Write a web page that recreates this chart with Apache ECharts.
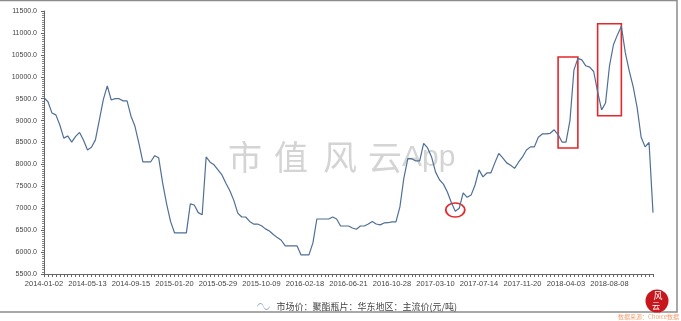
<!DOCTYPE html>
<html>
<head>
<meta charset="utf-8">
<script src="https://cdn.jsdelivr.net/npm/echarts@6/dist/echarts.min.js"></script>
<style>
  html, body { margin: 0; padding: 0; background: #fff; }
  #chart { width: 681px; height: 321px; }
</style>
</head>
<body>
<div id="chart"></div>
<script>
// x 轴刻度日期（每段 11 个采样点）
var tickLabels = ['2014-01-02', '2014-05-13', '2014-09-15', '2015-01-20', '2015-05-29', '2015-10-09', '2016-02-18',
    '2016-06-21', '2016-10-28', '2017-03-10', '2017-07-14', '2017-11-20', '2018-04-03', '2018-08-08'];
var lastDate = '2018-12-14';
var perSegment = 11;

// 市场价：聚酯瓶片：华东地区：主流价(元/吨)
var prices = [
    9520, 9430, 9175, 9130, 8900, 8600, 8650, 8510, 8640, 8730, 8550,
    8330, 8390, 8560, 9015, 9480, 9790, 9470, 9500, 9500, 9450, 9450,
    9100, 8870, 8480, 8060, 8060, 8060, 8200, 8150, 7580, 7100, 6700,
    6440, 6440, 6440, 6440, 7100, 7075, 6900, 6850, 8170, 8050, 7990,
    7875, 7760, 7570, 7400, 7180, 6890, 6800, 6800, 6700, 6640, 6640,
    6600, 6530, 6480, 6400, 6330, 6270, 6140, 6140, 6140, 6140, 5935,
    5935, 5935, 6210, 6755, 6755, 6755, 6755, 6800, 6755, 6595, 6595,
    6595, 6550, 6520, 6595, 6595, 6640, 6700, 6640, 6620, 6665, 6670,
    6690, 6690, 7030, 7690, 8130, 8130, 8080, 8080, 8480, 8375, 8170,
    7830, 7650, 7550, 7370, 7130, 6930, 7000, 7350, 7250, 7300, 7530,
    7875, 7715, 7805, 7805, 8035, 8250, 8150, 8035, 7980, 7910, 8050,
    8170, 8330, 8400, 8400, 8620, 8695, 8695, 8710, 8790, 8680, 8510,
    8510, 9000, 10150, 10420, 10385, 10250, 10220, 10120, 9655, 9245, 9400,
    10250, 10730, 10955, 11150, 10550, 10130, 9770, 9290, 8620, 8400, 8500,
    6900
];

// 标注：两个红框、一个红圈（类目序号 + 数值）
var boxes = [[130, 10450, 135, 8375], [140, 11210, 146, 9110]];
var circleAt = [104, 6960];

var seriesName = '市场价：聚酯瓶片：华东地区：主流价(元/吨)';

function fmt(d) {
    var m = d.getUTCMonth() + 1, day = d.getUTCDate();
    return d.getUTCFullYear() + '-' + (m < 10 ? '0' : '') + m + '-' + (day < 10 ? '0' : '') + day;
}

var categories = [];
var edges = tickLabels.concat([lastDate]);
for (var k = 0; k < tickLabels.length; k++) {
    var a = Date.parse(edges[k]), b = Date.parse(edges[k + 1]);
    for (var j = 0; j < perSegment; j++) {
        categories.push(j === 0 ? edges[k] : fmt(new Date(a + (b - a) * j / perSegment)));
    }
}
categories.push(lastDate);

var wmFont = '34px "Noto Sans CJK SC"';
var wmColor = '#d4d4d4';

var chart = echarts.init(document.getElementById('chart'));
chart.setOption({
    animation: false,
    grid: {left: 44, right: 28, top: 11, bottom: 47},
    legend: {
        data: [seriesName],
        left: 252,
        top: 297,
        itemWidth: 16,
        itemHeight: 7,
        icon: 'path://M0,5 C3,0 6,0 8,5 C10,10 13,10 16,5 L16,6.2 C13,11.2 10,11.2 8,6.2 C6,1.2 3,1.2 0,6.2 Z',
        itemStyle: {color: '#90a9c6'},
        textStyle: {fontSize: 9, color: '#444', fontFamily: 'Noto Sans CJK SC'}
    },
    xAxis: {
        type: 'category',
        boundaryGap: false,
        data: categories,
        axisLine: {lineStyle: {color: '#666', width: 1}},
        axisTick: {interval: 0, length: 3, lineStyle: {color: '#666'}},
        axisLabel: {
            interval: function (i) { return i % perSegment === 0 && i < categories.length - 1; },
            fontSize: 7.5, color: '#444', margin: 6, fontFamily: 'Liberation Sans'
        },
        splitLine: {show: false}
    },
    yAxis: {
        type: 'value',
        min: 5500,
        max: 11500,
        interval: 500,
        axisLine: {show: true, lineStyle: {color: '#666', width: 1}},
        axisTick: {show: true, length: 3, lineStyle: {color: '#666'}},
        minorTick: {show: true, splitNumber: 10, length: 2, lineStyle: {color: '#888'}},
        axisLabel: {
            fontSize: 7, color: '#444', margin: 7, fontFamily: 'Liberation Sans',
            formatter: function (v) { return v.toFixed(1); }
        },
        splitLine: {show: false}
    },
    series: [{
        name: seriesName,
        type: 'line',
        data: prices,
        showSymbol: false,
        z: 5,
        lineStyle: {color: '#4f6f96', width: 1.2},
        itemStyle: {color: '#4f6f96'},
        markArea: {
            silent: true,
            itemStyle: {color: 'rgba(0,0,0,0)', borderColor: '#e8262a', borderWidth: 1.6},
            data: boxes.map(function (b) {
                return [{xAxis: categories[b[0]], yAxis: b[1]}, {xAxis: categories[b[2]], yAxis: b[3]}];
            })
        },
        markPoint: {
            silent: true,
            symbol: 'circle',
            symbolSize: [19, 14],
            label: {show: false},
            itemStyle: {color: 'rgba(0,0,0,0)', borderColor: '#e8262a', borderWidth: 1.6},
            data: [{coord: [categories[circleAt[0]], circleAt[1]]}]
        }
    }],
    graphic: [
        {type: 'rect', z: 0, silent: true, shape: {x: -1, y: 0.5, width: 678, height: 311.5},
            style: {fill: null, stroke: '#8c8c8c', lineWidth: 1.5}},
        {type: 'group', z: 0, silent: true, children: [
            {type: 'text', x: 245, y: 157, style: {text: '市', font: wmFont, fill: wmColor, align: 'center', verticalAlign: 'middle'}},
            {type: 'text', x: 291, y: 157, style: {text: '值', font: wmFont, fill: wmColor, align: 'center', verticalAlign: 'middle'}},
            {type: 'text', x: 340, y: 157, style: {text: '风', font: wmFont, fill: wmColor, align: 'center', verticalAlign: 'middle'}},
            {type: 'text', x: 385, y: 157, style: {text: '云', font: wmFont, fill: wmColor, align: 'center', verticalAlign: 'middle'}},
            {type: 'text', x: 402, y: 158, style: {text: 'App', font: '30px "Liberation Sans"', fill: wmColor, align: 'left', verticalAlign: 'middle'}}
        ]},
        {type: 'circle', z: 10, silent: true, shape: {cx: 657, cy: 301, r: 11.5}, style: {fill: '#c8161d'}},
        {type: 'text', z: 11, silent: true, x: 658, y: 296, style: {text: '风', font: '9px "Noto Sans CJK SC"', fill: '#fff', align: 'center', verticalAlign: 'middle'}},
        {type: 'text', z: 11, silent: true, x: 656, y: 306, style: {text: '云', font: '8px "Noto Sans CJK SC"', fill: '#fff', align: 'center', verticalAlign: 'middle'}},
        {type: 'text', z: 11, silent: true, x: 679, y: 317, style: {text: '数据来源：Choice数据', font: '6px "Noto Sans CJK SC"', fill: '#f0a070', align: 'right', verticalAlign: 'middle'}}
    ]
});
</script>
</body>
</html>
